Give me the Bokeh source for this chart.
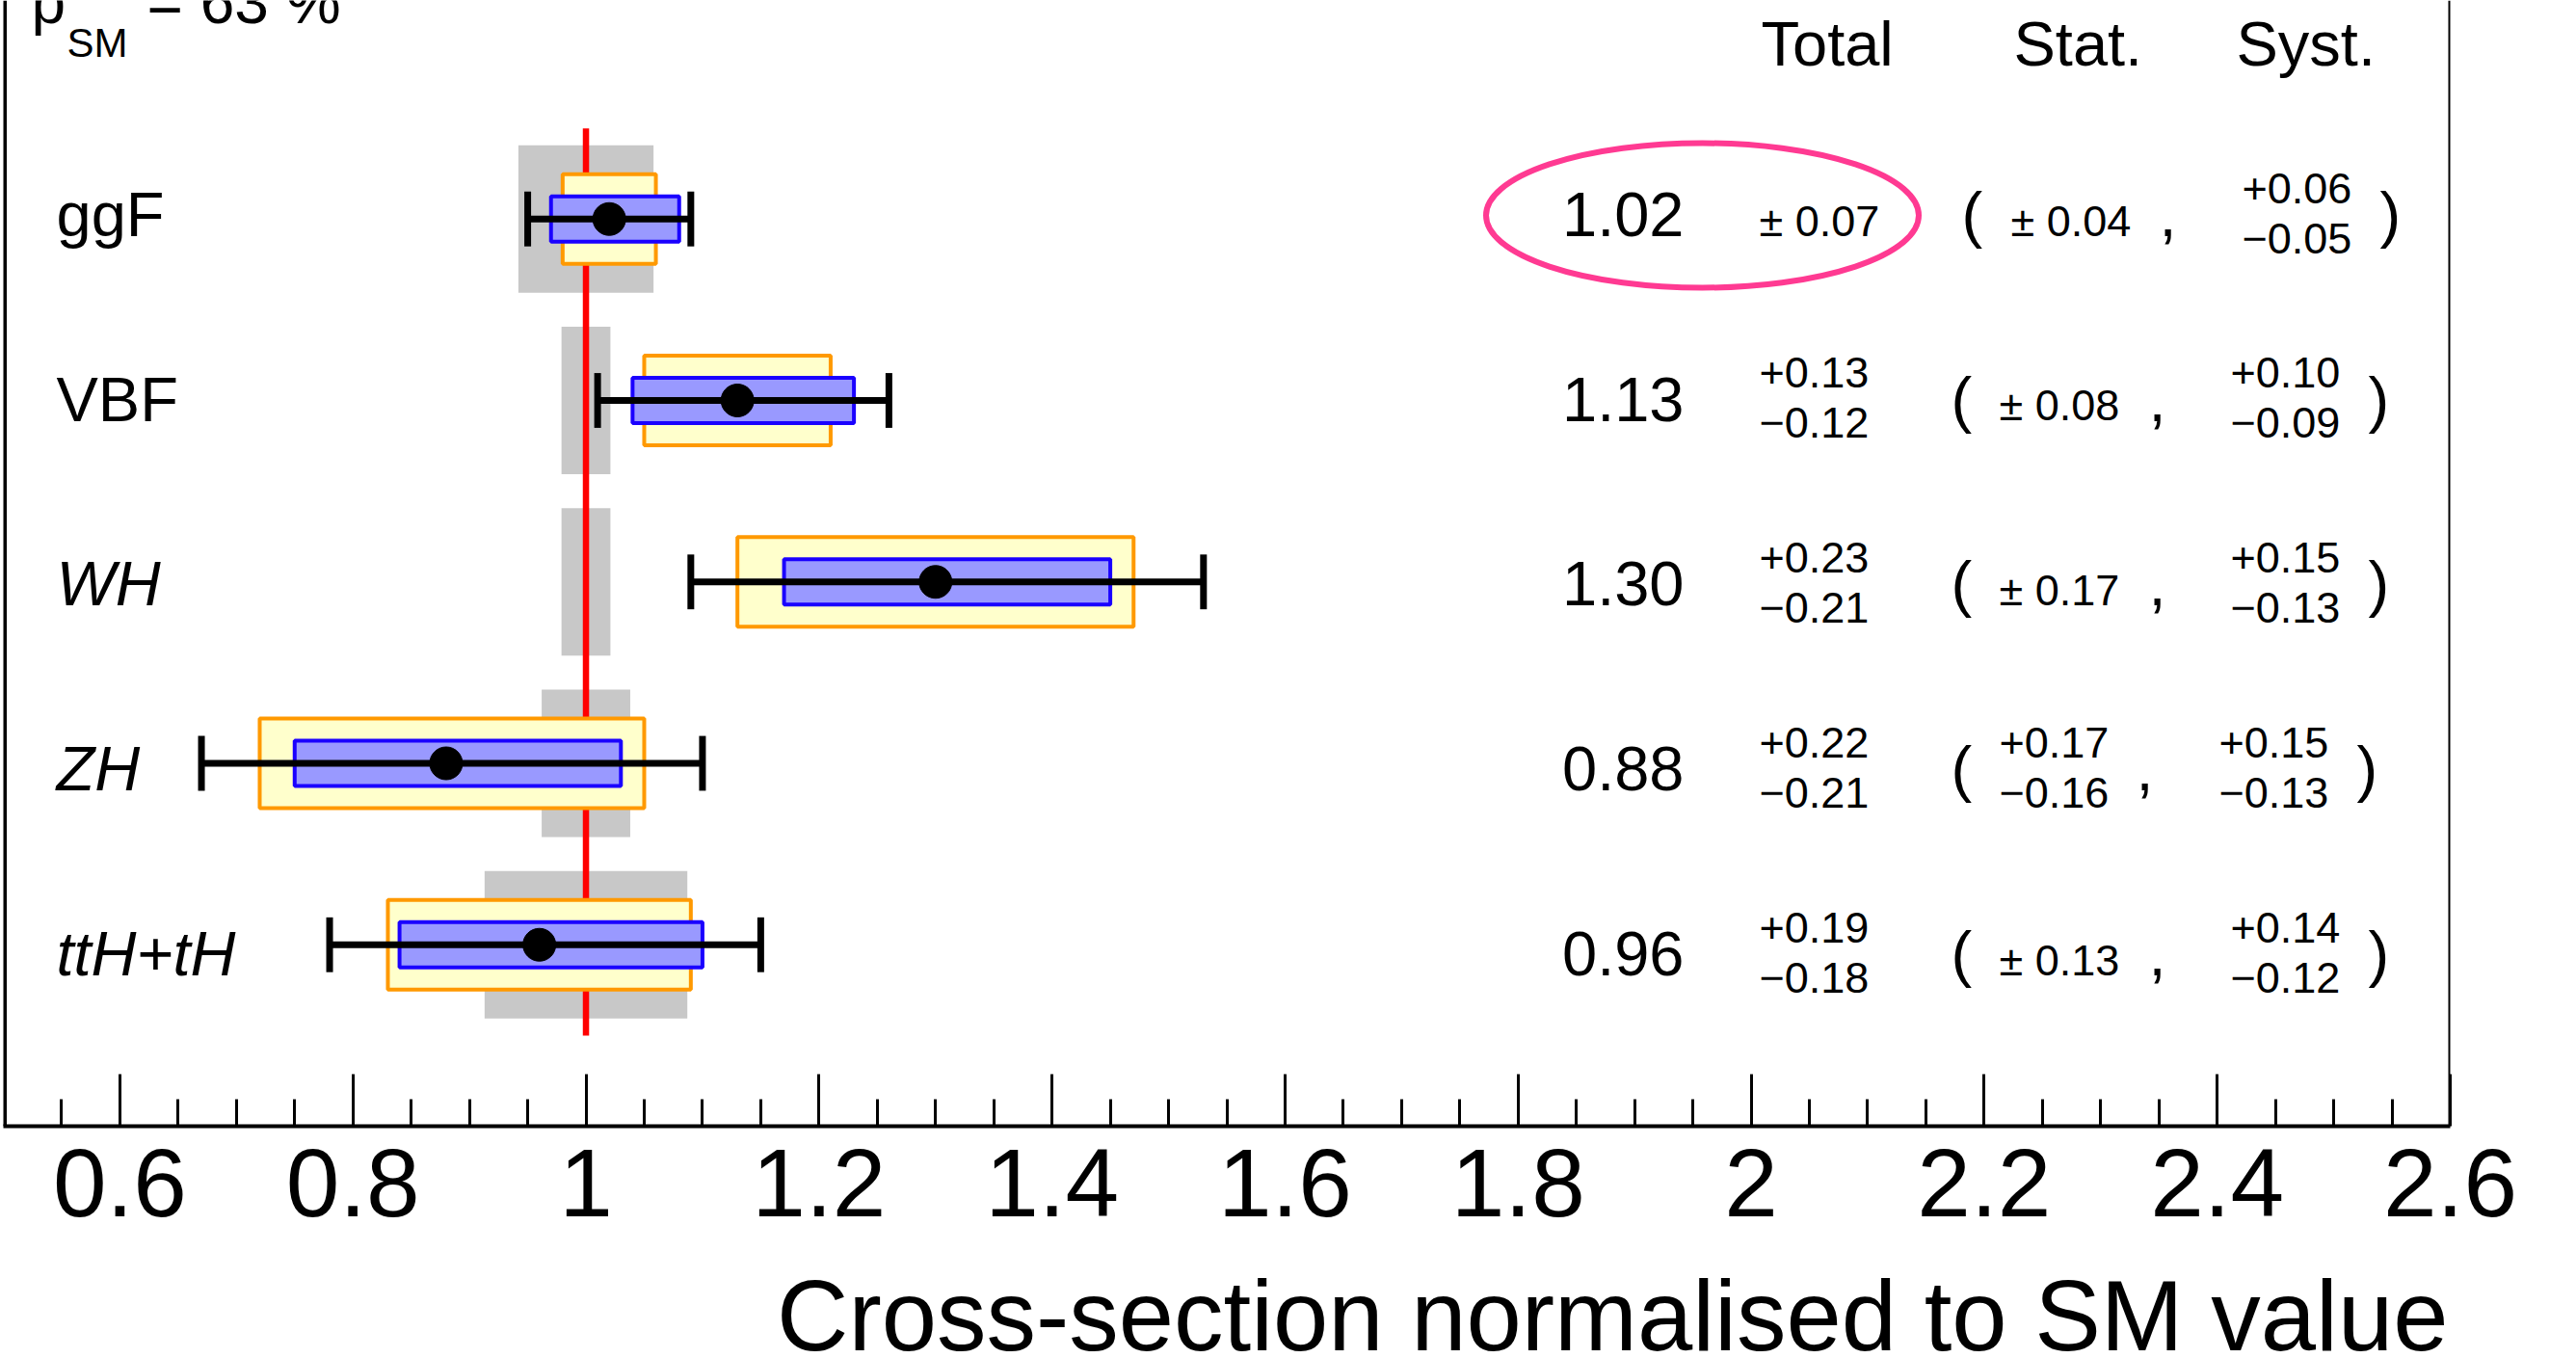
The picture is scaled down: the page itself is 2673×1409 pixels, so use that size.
from bokeh.plotting import figure
from bokeh.layouts import column
from bokeh.models import Range1d, FixedTicker, Label, Span, ColumnDataSource
from bokeh.embed import file_html
from bokeh.resources import INLINE

# ---------------- data ----------------
processes = ["ggF", "VBF", "WH", "ZH", "ttH+tH"]
mu = [1.02, 1.13, 1.30, 0.88, 0.96]
tot_up = [0.07, 0.13, 0.23, 0.22, 0.19]
tot_dn = [0.07, 0.12, 0.21, 0.21, 0.18]
stat_up = [0.04, 0.08, 0.17, 0.17, 0.13]
stat_dn = [0.04, 0.08, 0.17, 0.16, 0.13]
syst_up = [0.06, 0.10, 0.15, 0.15, 0.14]
syst_dn = [0.05, 0.09, 0.13, 0.13, 0.12]
sm_unc = [0.058, 0.021, 0.021, 0.038, 0.087]
sm_value = 1.0
p_sm_text = "63 %"
headers = ["Total", "Stat.", "Syst."]
x_ticks = [0.6, 0.8, 1.0, 1.2, 1.4, 1.6, 1.8, 2.0, 2.2, 2.4, 2.6]
x_tick_labels = ["0.6", "0.8", "1", "1.2", "1.4", "1.6", "1.8", "2", "2.2", "2.4", "2.6"]
x_title = "Cross-section normalised to SM value"

# ---------------- layout ----------------
FONT = "Liberation Sans"
W, H = 2673, 1409
FW, FH = 2539, 1168
H1 = 1318              # main figure height (frame + axis)
H2 = H - H1            # title strip
ML = 3
PXU = FW / 2.1         # px per x unit
PYU = 188.25           # px per y unit
X_START, X_END = 0.5, 2.6
Y_END = FH / PYU
SHIFT = 0.34           # baseline compensation (em)
label_style = ["normal", "normal", "italic", "italic", "italic"]


def X(rx):  # pixel x -> data x
    return X_START + (rx - ML) / PXU


def Y(ry):  # pixel y -> data y
    return (FH - ry) / PYU


n = len(processes)
ys = [n - i for i in range(n)]

src = ColumnDataSource(dict(
    y=ys, mu=mu,
    sm_lo=[sm_value - u for u in sm_unc], sm_hi=[sm_value + u for u in sm_unc],
    st_lo=[m - d for m, d in zip(mu, stat_dn)], st_hi=[m + u for m, u in zip(mu, stat_up)],
    sy_lo=[m - d for m, d in zip(mu, syst_dn)], sy_hi=[m + u for m, u in zip(mu, syst_up)],
    to_lo=[m - d for m, d in zip(mu, tot_dn)], to_hi=[m + u for m, u in zip(mu, tot_up)],
    cap_b=[y - 0.151 for y in ys], cap_t=[y + 0.151 for y in ys],
))

p = figure(width=W, height=H1, output_backend="svg", toolbar_location=None,
           x_range=Range1d(X_START, X_END), y_range=Range1d(0, Y_END),
           y_axis_location=None, min_border_left=ML, min_border_right=W - FW - ML,
           min_border_top=0, min_border_bottom=H1 - FH)
p.outline_line_color = None
p.background_fill_color = "white"
p.border_fill_color = "white"
p.xgrid.visible = False
p.ygrid.visible = False

minor = []
for k in range(1, 42):
    v = round(0.5 + 0.05 * k, 2)
    if all(abs(v - t) > 1e-6 for t in x_ticks):
        minor.append(v)
ax = p.xaxis[0]
ax.ticker = FixedTicker(ticks=x_ticks, minor_ticks=minor)
ax.major_label_overrides = dict(zip(x_ticks, x_tick_labels))
ax.axis_line_width = 4
ax.axis_line_color = "black"
ax.major_tick_in = 54
ax.major_tick_out = 0
ax.minor_tick_in = 28
ax.minor_tick_out = 0
ax.major_tick_line_width = 3
ax.minor_tick_line_width = 3
ax.major_label_text_font = FONT
ax.major_label_text_font_size = "100px"
ax.major_label_text_color = "black"
ax.major_label_standoff = 24

# frame sides
p.add_layout(Span(location=X_START + 1.5 / PXU, dimension="height", line_color="black", line_width=4))
p.add_layout(Span(location=X_END, dimension="height", line_color="black", line_width=4))

# SM uncertainty bands
p.hbar(y="y", height=0.813, left="sm_lo", right="sm_hi", source=src,
       fill_color="#c8c8c8", line_color=None)
# SM line
p.segment(x0=[sm_value], y0=[0.5], x1=[sm_value], y1=[n + 0.5], line_color="#ff0000", line_width=6.5)
# stat boxes
p.hbar(y="y", height=0.494, left="st_lo", right="st_hi", source=src,
       fill_color="#ffffcc", line_color="#ff9900", line_width=4)
# syst boxes
p.hbar(y="y", height=0.25, left="sy_lo", right="sy_hi", source=src,
       fill_color="#9999ff", line_color="#1a00ff", line_width=4)
# total error bars
p.segment(x0="to_lo", y0="y", x1="to_hi", y1="y", source=src, line_color="black", line_width=7)
p.segment(x0="to_lo", y0="cap_b", x1="to_lo", y1="cap_t", source=src, line_color="black", line_width=7)
p.segment(x0="to_hi", y0="cap_b", x1="to_hi", y1="cap_t", source=src, line_color="black", line_width=7)
p.scatter(x="mu", y="y", source=src, size=34, color="black")


def txt(rx, ry, s, size=65, align="left", style="normal"):
    p.add_layout(Label(x=X(rx), y=Y(ry - SHIFT * size), text=s, text_font=FONT,
                       text_font_size=f"{size}px", text_font_style=style,
                       text_align=align, text_baseline="alphabetic", text_color="black"))


def err_text(rx, base, up, dn, size=45):
    if abs(up - dn) < 1e-9:
        txt(rx, base, f"\u00b1 {up:.2f}", size)
    else:
        txt(rx, base - 34, f"+{up:.2f}", size)
        txt(rx, base + 18, f"\u2212{dn:.2f}", size)


# headers
txt(1827, 67, headers[0])
txt(2089, 67, headers[1])
txt(2320, 67, headers[2])

for i in range(n):
    base = 244 + 191.75 * i
    txt(58, base, processes[i], style=label_style[i])
    txt(1747, base, f"{mu[i]:.2f}", align="right")
    err_text(1825, base, tot_up[i], tot_dn[i])
    tsym = abs(tot_up[i] - tot_dn[i]) < 1e-9
    ssym = abs(stat_up[i] - stat_dn[i]) < 1e-9
    off = 12 if tsym else (-12 if not ssym else 0)
    txt(2024 + (11 if tsym else 0), base, "(")
    err_text(2074 + (12 if tsym else 0), base, stat_up[i], stat_dn[i])
    txt((2229 if ssym else 2216) + (11 if tsym else 0), base, ",")
    err_text(2314 + off, base, syst_up[i], syst_dn[i])
    txt(2457 + off, base, ")")

# p_SM (cut off at top)
txt(32, 23, "p", 64)
txt(69, 58, "SM", 42)
txt(152, 23, "= " + p_sm_text, 64)

# highlight ellipse
p.ellipse(x=[X(1766)], y=[Y(223)], width=[449 / PXU], height=[150 / PYU],
          fill_color=None, line_color="#ff3a92", line_width=6)

# ---------------- title strip below the axis ----------------
# (its frame is aligned with the main frame by the column layout)
p2 = figure(width=W, height=H2, output_backend="svg", toolbar_location=None,
            x_range=Range1d(ML, ML + FW), y_range=Range1d(0, H2),
            x_axis_location=None, y_axis_location=None,
            min_border_left=ML, min_border_right=W - FW - ML, min_border_top=0, min_border_bottom=0)
p2.outline_line_color = None
p2.background_fill_color = "white"
p2.border_fill_color = "white"
p2.xgrid.visible = False
p2.ygrid.visible = False
TS = 103
title_base = 1400 - H1  # baseline within strip, from its top
p2.add_layout(Label(x=2540, y=H2 - (title_base - SHIFT * TS), text=x_title, text_font=FONT,
                    text_font_size=f"{TS}px", text_align="right", text_baseline="alphabetic",
                    text_color="black"))

layout = column(p, p2, spacing=0)
open("out.html", "w").write(file_html(layout, INLINE))
